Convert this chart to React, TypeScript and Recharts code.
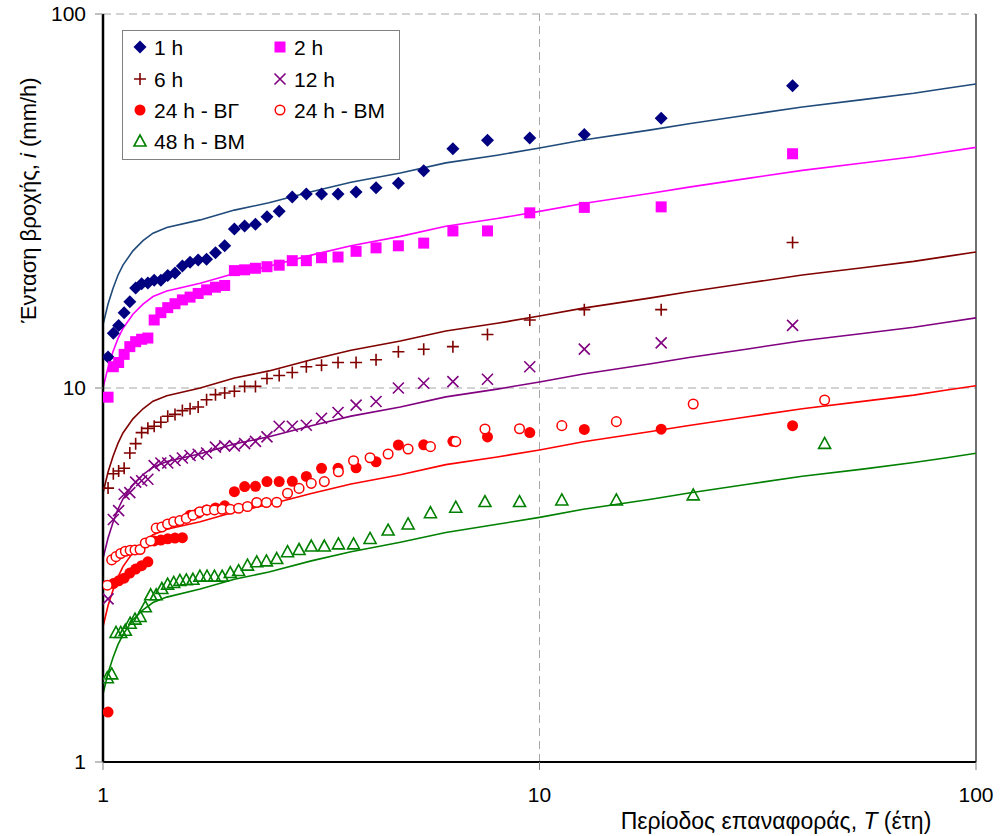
import { ComposedChart, Line, Scatter, XAxis, YAxis, ReferenceLine } from 'recharts';

const FONT = '"Liberation Sans", Arial, sans-serif';

// return periods T = (n+1)/m of the ranked annual maxima, ascending
const periodsBG = [
  1.027, 1.056, 1.086, 1.118, 1.152, 1.188, 1.226, 1.267, 1.31, 1.357, 1.407, 1.462, 1.52,
  1.583, 1.652, 1.727, 1.81, 1.9, 2.0, 2.111, 2.235, 2.375, 2.533, 2.714, 2.923, 3.167,
  3.455, 3.8, 4.222, 4.75, 5.429, 6.333, 7.6, 9.5, 12.667, 19.0, 38.0,
];
const periodsBM = [
  1.023, 1.047, 1.071, 1.098, 1.125, 1.154, 1.184, 1.216, 1.25, 1.286, 1.324, 1.364, 1.406,
  1.452, 1.5, 1.552, 1.607, 1.667, 1.731, 1.8, 1.875, 1.957, 2.045, 2.143, 2.25, 2.368, 2.5,
  2.647, 2.813, 3.0, 3.214, 3.462, 3.75, 4.091, 4.5, 5.0, 5.625, 6.429, 7.5, 9.0, 11.25, 15.0,
  22.5, 45.0,
];

// observed intensities (mm/h)
const oneHour = [
  12.1, 14.0, 14.7, 15.9, 17.0, 18.5, 19.0, 19.1, 19.4, 19.4, 20.0, 20.3, 21.2, 21.7, 22.0,
  22.1, 23.0, 24.0, 26.6, 27.1, 27.4, 28.7, 29.7, 32.4, 33.0, 33.0, 33.0, 33.4, 34.3, 35.3,
  38.1, 43.6, 46.0, 46.6, 47.6, 52.6, 64.3,
];
const twoHour = [
  9.45, 11.4, 11.7, 12.3, 12.9, 13.3, 13.5, 13.6, 15.2, 15.9, 16.4, 16.8, 17.2, 17.5, 17.9,
  18.3, 18.6, 18.8, 20.6, 20.7, 20.9, 21.1, 21.3, 21.9, 21.9, 22.3, 22.4, 23.2, 23.7, 24.0,
  24.4, 26.3, 26.3, 29.4, 30.4, 30.5, 42.3,
];
const sixHour = [
  5.4, 5.9, 6.0, 6.1, 6.7, 7.1, 7.6, 7.8, 7.9, 8.1, 8.4, 8.5, 8.7, 8.8, 8.9, 9.3, 9.6, 9.7,
  9.8, 10.1, 10.1, 10.6, 10.8, 11.0, 11.4, 11.5, 11.7, 11.7, 11.9, 12.5, 12.7, 12.9, 13.9,
  15.2, 16.2, 16.2, 24.5,
];
const twelveHour = [
  2.73, 4.45, 4.7, 5.2, 5.25, 5.6, 5.65, 5.7, 6.2, 6.3, 6.3, 6.4, 6.5, 6.6, 6.65, 6.7, 6.95,
  7.0, 7.0, 7.1, 7.2, 7.4, 7.9, 7.9, 7.95, 8.3, 8.6, 9.0, 9.2, 10.0, 10.3, 10.4, 10.55, 11.4,
  12.7, 13.2, 14.7,
];
const dayBG = [
  1.36, 3.0, 3.05, 3.1, 3.2, 3.28, 3.35, 3.43, 3.9, 3.92, 3.95, 3.97, 3.98, 4.57, 4.63, 4.72,
  4.78, 4.84, 5.28, 5.45, 5.46, 5.62, 5.62, 5.63, 5.8, 6.1, 6.1, 6.12, 6.35, 7.04, 7.05, 7.2,
  7.4, 7.6, 7.75, 7.76, 7.93,
];
const dayBM = [
  2.97, 3.47, 3.54, 3.61, 3.66, 3.68, 3.69, 3.7, 3.85, 3.9, 4.22, 4.25, 4.33, 4.39, 4.42,
  4.48, 4.57, 4.67, 4.72, 4.72, 4.74, 4.74, 4.77, 4.82, 4.94, 4.94, 4.95, 5.23, 5.39, 5.56,
  5.62, 5.97, 6.39, 6.51, 6.66, 6.87, 6.97, 7.19, 7.77, 7.78, 7.93, 8.13, 9.06, 9.29,
];
const twoDayBM = [
  1.68, 1.72, 2.22, 2.22, 2.25, 2.35, 2.41, 2.45, 2.6, 2.8, 2.8, 2.91, 2.99, 3.02, 3.06, 3.07,
  3.08, 3.14, 3.14, 3.14, 3.14, 3.21, 3.25, 3.36, 3.43, 3.45, 3.5, 3.65, 3.7, 3.78, 3.78,
  3.83, 3.83, 3.96, 4.17, 4.33, 4.64, 4.8, 4.97, 4.97, 5.02, 5.02, 5.18, 7.11,
];

// fitted IDF curves
const curvePeriods = [
  1, 1.027, 1.054, 1.082, 1.111, 1.171, 1.235, 1.302, 1.4, 1.67, 2, 2.4, 3, 3.7, 4.8, 6.1, 8,
  10, 12.6, 18, 22, 30, 40, 55, 72, 85, 100,
];
const curve1h = [
  14.76, 16.77, 18.46, 20.02, 21.32, 23.27, 24.77, 25.94, 26.85, 28.15, 29.9, 31.27, 33.48,
  35.49, 37.57, 39.98, 41.93, 43.81, 46.02, 49.01, 50.9, 53.69, 56.42, 59.02, 61.36, 63.18, 65.0,
];
const curve2h = [
  9.99, 11.35, 12.5, 13.55, 14.43, 15.75, 16.76, 17.56, 18.17, 19.05, 20.24, 21.16, 22.66,
  24.02, 25.43, 27.06, 28.38, 29.66, 31.15, 33.18, 34.45, 36.34, 38.19, 39.95, 41.54, 42.77, 44.0,
];
const curve6h = [
  5.24, 5.96, 6.56, 7.11, 7.58, 8.27, 8.8, 9.22, 9.54, 10.0, 10.63, 11.11, 11.9, 12.61, 13.35,
  14.21, 14.9, 15.57, 16.35, 17.42, 18.09, 19.08, 20.05, 20.97, 21.81, 22.45, 23.1,
];
const curve12h = [
  3.5, 3.97, 4.37, 4.74, 5.05, 5.51, 5.87, 6.14, 6.36, 6.67, 7.08, 7.41, 7.93, 8.41, 8.9,
  9.47, 9.93, 10.38, 10.9, 11.61, 12.06, 12.72, 13.37, 13.98, 14.54, 14.97, 15.4,
];
const curve24h = [
  2.3, 2.62, 2.88, 3.12, 3.33, 3.63, 3.86, 4.05, 4.19, 4.39, 4.66, 4.88, 5.22, 5.54, 5.86,
  6.24, 6.54, 6.83, 7.18, 7.65, 7.94, 8.38, 8.8, 9.21, 9.57, 9.86, 10.14,
];
const curve48h = [
  1.52, 1.73, 1.9, 2.06, 2.19, 2.4, 2.55, 2.67, 2.76, 2.9, 3.08, 3.22, 3.45, 3.65, 3.87, 4.11,
  4.32, 4.51, 4.74, 5.04, 5.24, 5.53, 5.81, 6.07, 6.32, 6.5, 6.69,
];

const logTicks = [1, 10, 100];

const toPoints = (periods: number[], values: number[]) =>
  periods.map((T, k) => ({ T, v: values[k] }));

type MarkProps = { cx: number; cy: number };

const Diamond = ({ cx, cy }: MarkProps) => (
  <path d={`M${cx},${cy - 6.5}L${cx + 6.5},${cy}L${cx},${cy + 6.5}L${cx - 6.5},${cy}Z`} fill="#000080" />
);
const Square = ({ cx, cy }: MarkProps) => (
  <rect x={cx - 5.5} y={cy - 5.5} width={11} height={11} fill="#FF00FF" />
);
const Plus = ({ cx, cy }: MarkProps) => (
  <path d={`M${cx - 6},${cy}H${cx + 6}M${cx},${cy - 6}V${cy + 6}`} stroke="#800000" strokeWidth={1.6} />
);
const Cross = ({ cx, cy }: MarkProps) => (
  <path
    d={`M${cx - 5.5},${cy - 5.5}L${cx + 5.5},${cy + 5.5}M${cx - 5.5},${cy + 5.5}L${cx + 5.5},${cy - 5.5}`}
    stroke="#800080"
    strokeWidth={1.6}
  />
);
const Dot = ({ cx, cy }: MarkProps) => <circle cx={cx} cy={cy} r={5.5} fill="#FF0000" />;
const Ring = ({ cx, cy }: MarkProps) => (
  <circle cx={cx} cy={cy} r={4.8} fill="#fff" stroke="#FF0000" strokeWidth={1.5} />
);
const Triangle = ({ cx, cy }: MarkProps) => (
  <path
    d={`M${cx},${cy - 6}L${cx + 6},${cy + 5}L${cx - 6},${cy + 5}Z`}
    fill="none"
    stroke="#008000"
    strokeWidth={1.6}
  />
);

const legendItems = [
  { label: '1 h', Mark: Diamond, x: 18, y: 17 },
  { label: '2 h', Mark: Square, x: 158, y: 17 },
  { label: '6 h', Mark: Plus, x: 18, y: 49 },
  { label: '12 h', Mark: Cross, x: 158, y: 49 },
  { label: '24 h - ΒΓ', Mark: Dot, x: 18, y: 80 },
  { label: '24 h - ΒΜ', Mark: Ring, x: 158, y: 80 },
  { label: '48 h - ΒΜ', Mark: Triangle, x: 18, y: 111 },
];

const curves = [
  { data: curve1h, color: '#1F4A7A' },
  { data: curve2h, color: '#FF00FF' },
  { data: curve6h, color: '#800000' },
  { data: curve12h, color: '#800080' },
  { data: curve24h, color: '#FF0000' },
  { data: curve48h, color: '#008000' },
];

const gridStroke = '#A6A6A6';
const tickStyle = { fontSize: 21, fill: '#000', fontFamily: FONT };

export default function App() {
  return (
    <div style={{ position: 'absolute', left: 0, top: 0, width: 1000, height: 836, background: '#fff' }}>
      <ComposedChart width={1000} height={836} margin={{ top: 14, right: 24, bottom: 0, left: 0 }}>
        <XAxis
          type="number"
          dataKey="T"
          scale="log"
          domain={[1, 100]}
          ticks={logTicks}
          allowDataOverflow
          height={74}
          tickSize={8}
          tickMargin={17}
          axisLine={{ stroke: '#000', strokeWidth: 2 }}
          tickLine={{ stroke: '#808080' }}
          tick={tickStyle}
        />
        <YAxis
          type="number"
          dataKey="v"
          scale="log"
          domain={[1, 100]}
          ticks={logTicks}
          allowDataOverflow
          width={103}
          tickSize={8}
          tickMargin={9}
          axisLine={{ stroke: '#000', strokeWidth: 2.5 }}
          tickLine={{ stroke: '#808080' }}
          tick={tickStyle}
        />
        <ReferenceLine y={100} stroke={gridStroke} strokeDasharray="8 5" />
        <ReferenceLine y={10} stroke={gridStroke} strokeDasharray="8 5" />
        <ReferenceLine x={10} stroke={gridStroke} strokeDasharray="8 5" />
        <ReferenceLine x={100} stroke="#404040" strokeWidth={1.5} />

        {curves.map((c, k) => (
          <Line
            key={k}
            data={toPoints(curvePeriods, c.data)}
            dataKey="v"
            type="linear"
            stroke={c.color}
            strokeWidth={1.6}
            dot={false}
            activeDot={false}
            isAnimationActive={false}
          />
        ))}

        <Scatter data={toPoints(periodsBG, oneHour)} shape={(p: any) => <Diamond cx={p.cx} cy={p.cy} />} isAnimationActive={false} />
        <Scatter data={toPoints(periodsBG, twoHour)} shape={(p: any) => <Square cx={p.cx} cy={p.cy} />} isAnimationActive={false} />
        <Scatter data={toPoints(periodsBG, sixHour)} shape={(p: any) => <Plus cx={p.cx} cy={p.cy} />} isAnimationActive={false} />
        <Scatter data={toPoints(periodsBG, twelveHour)} shape={(p: any) => <Cross cx={p.cx} cy={p.cy} />} isAnimationActive={false} />
        <Scatter data={toPoints(periodsBG, dayBG)} shape={(p: any) => <Dot cx={p.cx} cy={p.cy} />} isAnimationActive={false} />
        <Scatter data={toPoints(periodsBM, dayBM)} shape={(p: any) => <Ring cx={p.cx} cy={p.cy} />} isAnimationActive={false} />
        <Scatter data={toPoints(periodsBM, twoDayBM)} shape={(p: any) => <Triangle cx={p.cx} cy={p.cy} />} isAnimationActive={false} />
      </ComposedChart>

      {/* axis titles */}
      <svg width={1000} height={836} style={{ position: 'absolute', left: 0, top: 0, pointerEvents: 'none' }}>
        <text
          x={0}
          y={0}
          transform="translate(28,200) rotate(-90)"
          textAnchor="middle"
          dominantBaseline="central"
          fontFamily={FONT}
          fontSize={22}
          fill="#000"
        >
          Ένταση βροχής, <tspan fontStyle="italic">i</tspan> (mm/h)
        </text>
        <text x={776} y={829} textAnchor="middle" fontFamily={FONT} fontSize={23} fill="#000">
          Περίοδος επαναφοράς, <tspan fontStyle="italic">T</tspan> (έτη)
        </text>
      </svg>

      {/* legend */}
      <svg width={278} height={130} style={{ position: 'absolute', left: 122, top: 30 }}>
        <rect x={0.5} y={0.5} width={277} height={129} fill="#fff" stroke="#808080" strokeWidth={1} />
        {legendItems.map(({ label, Mark, x, y }) => (
          <g key={label}>
            <Mark cx={x} cy={y} />
            <text x={x + 14} y={y} dominantBaseline="central" fontFamily={FONT} fontSize={21} fill="#000">
              {label}
            </text>
          </g>
        ))}
      </svg>
    </div>
  );
}
